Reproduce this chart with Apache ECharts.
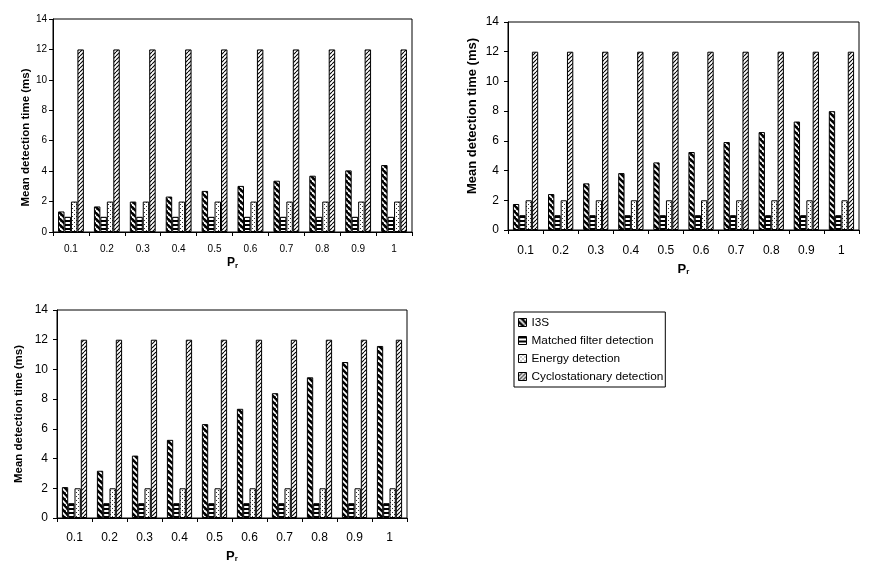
<!DOCTYPE html>
<html>
<head>
<meta charset="utf-8">
<script src="https://cdn.jsdelivr.net/npm/echarts@6/dist/echarts.min.js"></script>
<style>
html,body{margin:0;padding:0;background:#fff;}
#chart{width:872px;height:566px;}
</style>
</head>
<body>
<div id="chart"></div>
<script>
// ---- data ----
const categories = ['0.1','0.2','0.3','0.4','0.5','0.6','0.7','0.8','0.9','1'];
const seriesNames = ['I3S','Matched filter detection','Energy detection','Cyclostationary detection'];
const i3sTopLeft = [1.35,1.68,2.0,2.33,2.7,3.03,3.37,3.7,4.05,4.4];
const i3sTopRight = [1.75,2.42,3.14,3.83,4.55,5.25,5.92,6.59,7.3,8.0];
const i3sBottom = [2.08,3.18,4.2,5.26,6.32,7.35,8.4,9.47,10.5,11.58];
const matchedValues = [1,1,1,1,1,1,1,1,1,1];
const energyValues = [2,2,2,2,2,2,2,2,2,2];
const cycloValues = [12,12,12,12,12,12,12,12,12,12];
const yTicks = {min:0, max:14, interval:2};
const xAxisTitle = '{p|P}{r|r}';
const yAxisTitle = 'Mean detection time (ms)';

// ---- patterns ----
function tile(w,h,draw){const c=document.createElement('canvas');c.width=w;c.height=h;const g=c.getContext('2d');draw(g,w,h);return {image:c,repeat:'repeat'};}
const patI3S = tile(6,6,(g,w,h)=>{g.fillStyle='#000';g.fillRect(0,0,w,h);g.strokeStyle='#fff';g.lineWidth=1.8;for(const k of [-w,0,w]){g.beginPath();g.moveTo(k,0);g.lineTo(k+w,h);g.stroke();}});
const patMF = tile(4,4,(g,w,h)=>{g.fillStyle='#fff';g.fillRect(0,0,w,h);g.fillStyle='#000';g.fillRect(0,0,w,2);});
const patEnergy = tile(4,4,(g,w,h)=>{g.fillStyle='#fff';g.fillRect(0,0,w,h);g.fillStyle='#333';g.fillRect(0,0,1,1);g.fillRect(2,2,1,1);});
const patCyclo = tile(4,4,(g,w,h)=>{g.fillStyle='#fff';g.fillRect(0,0,w,h);g.strokeStyle='#000';g.lineWidth=1.1;for(const k of [-w,0,w]){g.beginPath();g.moveTo(k,h);g.lineTo(k+w,0);g.stroke();}});
const patterns = [patI3S,patMF,patEnergy,patCyclo];

// ---- layout ----
const panels = [
  {grid:{left:53,top:19,width:359,height:213}, i3s:i3sTopLeft, tickFont:10, nameFont:11.5, yNamePad:[0,24,0,0], yNameGap:20, yLabelMargin:6, xLabelMargin:12, xNameGap:24, xNameFont:12},
  {grid:{left:508,top:22,width:351,height:208}, i3s:i3sTopRight, tickFont:12, nameFont:13, yNamePad:[0,0,0,20], yNameGap:29, yLabelMargin:9, xLabelMargin:15, xNameGap:32, xNameFont:13},
  {grid:{left:57,top:310,width:350,height:208}, i3s:i3sBottom, tickFont:12, nameFont:11.5, yNamePad:[0,0,0,0], yNameGap:32, yLabelMargin:9, xLabelMargin:14, xNameGap:31, xNameFont:13}
];
const FONT = 'Liberation Sans, Arial, sans-serif';

const grids=[], xAxes=[], yAxes=[], series=[];
panels.forEach((p,i)=>{
  grids.push(Object.assign({show:true,borderColor:'#000',borderWidth:1,backgroundColor:'transparent',outerBoundsMode:'none',containLabel:false},p.grid));
  xAxes.push({type:'category',gridIndex:i,data:categories,
    name:xAxisTitle,nameLocation:'middle',nameGap:p.xNameGap,
    nameTextStyle:{rich:{p:{fontFamily:FONT,fontSize:p.xNameFont,fontWeight:'bold',color:'#000',lineHeight:14,verticalAlign:'middle'},r:{fontFamily:FONT,fontSize:Math.round(p.xNameFont*0.65),fontWeight:'bold',color:'#000',lineHeight:8,verticalAlign:'bottom'}}},
    axisLine:{lineStyle:{color:'#000',width:1}},
    axisTick:{show:true,length:4,lineStyle:{color:'#000'}},
    axisLabel:{color:'#000',fontFamily:FONT,fontSize:p.tickFont,margin:p.xLabelMargin},
    splitLine:{show:false}});
  yAxes.push({type:'value',gridIndex:i,min:yTicks.min,max:yTicks.max,interval:yTicks.interval,
    name:yAxisTitle,nameLocation:'middle',nameGap:p.yNameGap,
    nameTextStyle:{fontFamily:FONT,fontSize:p.nameFont,fontWeight:'bold',color:'#000',padding:p.yNamePad},
    axisLine:{show:true,lineStyle:{color:'#000',width:1}},
    axisTick:{show:true,length:4,lineStyle:{color:'#000'}},
    axisLabel:{color:'#000',fontFamily:FONT,fontSize:p.tickFont,margin:p.yLabelMargin},
    splitLine:{show:false}});
  const vals=[p.i3s,matchedValues,energyValues,cycloValues];
  seriesNames.forEach((n,k)=>{
    series.push({type:'bar',name:n,xAxisIndex:i,yAxisIndex:i,data:vals[k],
      barGap:'0%',barCategoryGap:'28%',
      itemStyle:{color:patterns[k],borderColor:'#000',borderWidth:1},
      emphasis:{disabled:true},animation:false});
  });
});

const chart = echarts.init(document.getElementById('chart'),null,{renderer:'canvas'});
chart.setOption({
  animation:false,
  backgroundColor:'#fff',
  grid:grids, xAxis:xAxes, yAxis:yAxes, series:series,
  legend:{data:seriesNames,orient:'vertical',left:514,top:312,
    itemWidth:8,itemHeight:8,itemGap:5,padding:[4,2,4,4],
    borderColor:'#000',borderWidth:1,
    icon:'rect',
    itemStyle:{borderColor:'#000',borderWidth:1},
    textStyle:{fontFamily:FONT,fontSize:11.8,color:'#000',lineHeight:13}}
});
</script>
</body>
</html>
